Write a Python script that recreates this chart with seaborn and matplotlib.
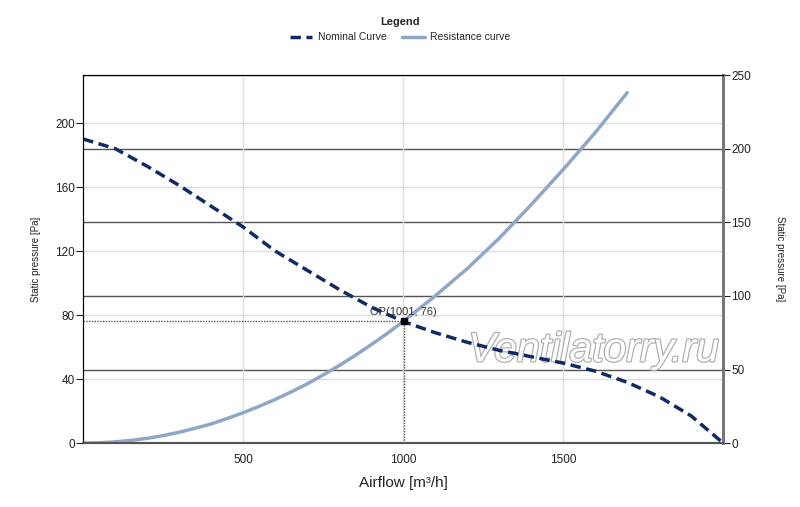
import numpy as np
import pandas as pd
import matplotlib
matplotlib.use("Agg")
import matplotlib.pyplot as plt
import matplotlib.patheffects as pe
import seaborn as sns

# Curve values (left axis, Pa)
nominal_flow = [0, 100, 200, 300, 400, 500, 600, 700, 800, 900, 1000,
                1100, 1200, 1300, 1400, 1500, 1600, 1700, 1800, 1900, 2000]
nominal_pressure = [190, 184, 173, 161, 148, 135, 120, 108, 96, 85, 76,
                    69, 63, 58, 54, 50, 45, 38, 29, 17, 0]

resistance_flow = [0, 50, 100, 150, 200, 250, 300, 350, 400, 450, 500,
                   550, 600, 650, 700, 750, 800, 850, 900, 950, 1000,
                   1100, 1200, 1300, 1400, 1500, 1600, 1700]
resistance_pressure = [0, 0.2, 0.8, 1.7, 3, 4.7, 6.8, 9.3, 12, 15.4, 19,
                       23, 27.3, 32, 37, 42.6, 48.5, 54.8, 61.5, 68.5, 76,
                       92, 109, 128, 149, 171, 194, 219]

op_flow, op_pressure = 1001, 76

left_ticks = [0, 40, 80, 120, 160, 200]
right_ticks = [0, 50, 100, 150, 200, 250]
x_ticks = [500, 1000, 1500]

sns.set_style("white")
plt.rcParams['font.family'] = ['Liberation Sans', 'DejaVu Sans']

nominal = pd.DataFrame({'Airflow': nominal_flow, 'Pressure': nominal_pressure})
resistance = pd.DataFrame({'Airflow': resistance_flow, 'Pressure': resistance_pressure})

fig = plt.figure(figsize=(8, 5.07), dpi=100)
ax = fig.add_axes([0.104, 0.126, 0.800, 0.726])
ax2 = ax.twinx()
ax.set_zorder(2)
ax.patch.set_visible(False)

# right axis: only scale + dark grid lines
ax2.set_ylim(0, 250)
ax2.set_yticks(right_ticks)
ax2.grid(True, axis='y', color='#555555', linewidth=1)
ax2.tick_params(axis='y', labelsize=8.5, colors='#222222', length=5, width=0.8,
                direction='out', pad=1)
ax2.set_ylabel("Static pressure [Pa]", fontsize=7, color='#222222',
               rotation=-90, labelpad=24)

# curves
sns.lineplot(data=resistance, x='Airflow', y='Pressure', ax=ax,
             color='#8fa7c7', linewidth=2.5, label='Resistance curve')
sns.lineplot(data=nominal, x='Airflow', y='Pressure', ax=ax,
             color='#102a66', linewidth=2.5, linestyle=(0, (3, 1.6)),
             label='Nominal Curve')

# operating point with dotted guide lines
ax.plot([0, op_flow], [op_pressure, op_pressure], color='#555555',
        linestyle=(0, (1, 1)), linewidth=1, zorder=3)
ax.plot([op_flow, op_flow], [0, op_pressure], color='#555555',
        linestyle=(0, (1, 1)), linewidth=1, zorder=3)
ax.plot([op_flow], [op_pressure], marker='s', markersize=4, color='black', zorder=5)
ax.text(op_flow, op_pressure + 3, f"OP({op_flow}, {op_pressure})",
        ha='center', va='bottom', fontsize=8, color='#333333', zorder=6)

ax.set_xlim(0, 2000)
ax.set_ylim(0, 230)
ax.set_xticks(x_ticks)
ax.set_yticks(left_ticks)
ax.grid(True, color='#dddddd', linewidth=1)
ax.tick_params(axis='both', labelsize=8.5, colors='#222222', length=5, width=0.8,
               direction='out', pad=1)
ax.tick_params(axis='x', pad=3)
ax.set_xlabel("Airflow [m³/h]", fontsize=11, color='#222222', labelpad=7)
ax.set_ylabel("Static pressure [Pa]", fontsize=7, color='#222222', labelpad=10)

for a in (ax, ax2):
    a.spines['top'].set_color('black')
    a.spines['left'].set_color('black')
    a.spines['bottom'].set_color('#555555')
    a.spines['right'].set_color('#777777')
    a.spines['right'].set_linewidth(2)
    a.spines['bottom'].set_linewidth(1.5)

# watermark
wm = ax.text(1595, 58, "Ventilatorry.ru", fontsize=29.5, style='italic',
             color='white', ha='center', va='center', zorder=1)
wm.set_path_effects([pe.Stroke(linewidth=1.8, foreground='#b0b0b0'), pe.Normal()])

# legend at the top
handles, labels = ax.get_legend_handles_labels()
if ax.get_legend() is not None:
    ax.get_legend().remove()
order = [labels.index('Nominal Curve'), labels.index('Resistance curve')]
leg = fig.legend([handles[i] for i in order], [labels[i] for i in order],
                 title="Legend", loc='upper center', bbox_to_anchor=(0.5, 0.985),
                 ncol=2, frameon=False, fontsize=7.5, title_fontsize=8,
                 handlelength=2.2, columnspacing=1.5, handletextpad=0.5)
leg.get_title().set_fontweight('bold')

fig.savefig("out.png", dpi=100)
